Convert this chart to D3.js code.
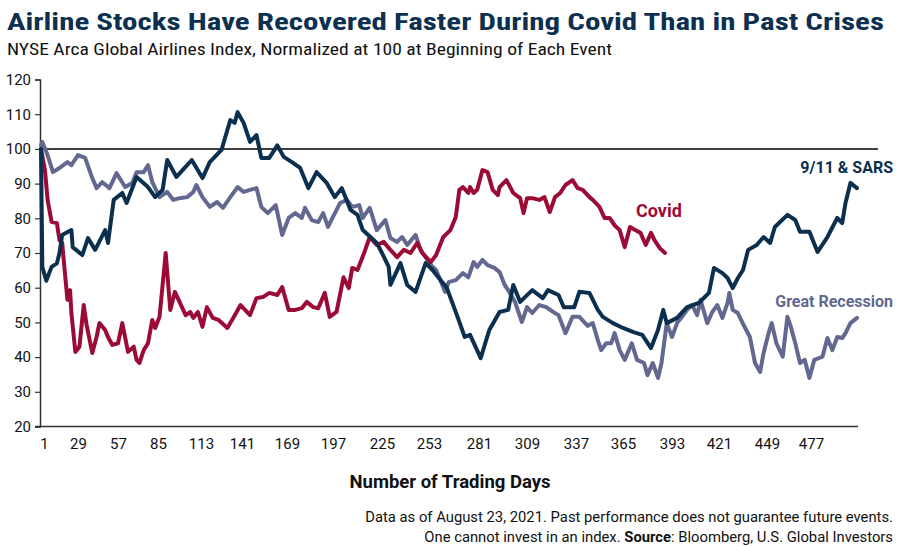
<!DOCTYPE html>
<html>
<head>
<meta charset="utf-8">
<script src="https://cdn.jsdelivr.net/npm/d3@7"></script>
<style>
  body { margin: 0; background: #fff; }
  svg { display: block; }
</style>
</head>
<body>
<svg id="chart" width="900" height="546"></svg>
<script>
// ---- Data ----
const xTickLabels = [1, 29, 57, 85, 113, 141, 169, 197, 225, 253, 281, 309, 337, 365, 393, 421, 449, 477];
const yTickLabels = [20, 30, 40, 50, 60, 70, 80, 90, 100, 110, 120];
const lastDay = 505;

const sarsDays = [1,2,5,9,13,15,17,24,25,32,36,41,48,50,54,60,63,70,78,83,88,91,97,101,107,114,119,127,133,136,138,142,146,150,153,158,163,167,172,177,182,187,193,198,202,207,211,214,219,222,225,229,230,236,240,245,251,255,263,269,273,276,282,287,293,298,301,305,312,318,321,327,330,336,339,345,350,353,359,365,371,376,381,385,388,390,396,402,409,415,418,423,426,429,432,435,438,443,447,451,454,462,467,470,476,481,487,493,496,498,501,505];
const sarsValues = [100,66,62,66,67,70,75.2,76.6,71.7,69.4,74.3,70.9,76.6,72.9,85.3,87.3,84.4,91.9,89,86.1,88.2,96.8,91.9,93.9,96.8,91.6,96.2,99.7,108.3,107.5,110.6,107.5,102,104,97.4,97.4,101,97.7,96.2,94.5,88.7,93.3,90.3,86.1,88.7,82.4,81,76.6,74.3,72.9,70,66,60.8,67.1,60.8,58.8,67.1,65.1,59.9,51.6,45.8,46.4,39.7,47.8,53,53.6,60.8,55.9,59.3,57,59.3,57.9,54.4,54.4,58.8,58.5,53.6,51.6,49.8,48.4,47.2,46.4,42.6,47.8,53.6,49.8,51.3,54.4,55.6,58.5,65.7,64.2,62.8,59.9,62.8,65.1,70.9,72.3,74.6,72.9,77.5,81,79.5,76.1,76.1,70.3,74.6,80.1,78.6,84.4,90.2,88.7];

const covidDays = [1,4,6,9,13,15,17,18,21,23,24,27,30,33,35,39,42,44,48,50,53,57,60,64,68,70,72,75,78,81,83,86,90,93,96,99,103,106,108,111,114,117,121,125,131,135,140,146,150,154,158,163,166,170,174,178,181,185,188,192,195,199,203,206,208,211,215,218,222,226,230,234,238,242,246,249,254,257,261,265,268,270,272,275,276,278,280,283,286,289,292,293,297,301,305,307,309,312,316,319,322,325,328,331,335,338,341,345,347,351,354,357,360,363,366,369,372,375,378,381,383,386,389];
const covidValues = [100,93.9,85.3,79,78.6,73.7,72.9,68.8,56.5,59.3,52.7,41.5,43,55,49.3,41.2,45.8,49.8,47.8,45.8,43.5,44,49.8,41.5,43,39.2,38.3,42,44,50.7,48.4,51.6,70,53.6,58.8,55.9,52.1,53,51.3,53,48.7,54.4,51.3,50.7,48.4,51.3,55,52.1,57,57.3,58.5,57.9,60.2,53.6,53.6,54.1,55.9,54.4,54.1,58.5,51.6,53,63,59.9,65.7,65.1,70.3,74.6,72.3,73.2,70.9,68.8,70.9,70,72.9,70,67.4,69.4,74.6,76.6,80.4,88.2,89,87.3,89,87.3,88.2,93.9,93.3,88.2,86.7,89,91,87.3,85.8,81.5,85.8,85.8,85.3,86.1,81.8,86.1,87.3,89.6,91,88.7,88.2,86.1,85.3,83.3,80.1,80.1,78,76.6,71.7,77.5,76.6,75.8,72.3,75.8,73.7,71.4,70];

const recessionDays = [1,2,6,10,15,21,24,29,34,39,42,46,51,56,62,67,70,75,78,81,86,91,95,99,104,108,110,114,119,124,128,133,138,142,146,150,153,157,162,166,170,174,178,180,184,188,191,194,197,201,205,208,212,214,218,222,227,230,234,237,240,245,248,252,255,257,262,264,268,272,275,278,280,283,286,290,293,296,299,302,306,309,312,316,320,324,327,331,335,339,344,347,350,352,355,358,360,363,366,370,373,377,379,382,385,387,390,393,396,399,402,405,408,410,414,417,420,423,426,427,429,432,435,439,442,445,447,450,452,455,459,462,464,467,470,473,476,479,484,487,490,493,496,498,501,505];
const recessionValues = [101.1,102,98.2,93.3,94.5,96.2,95.3,98.2,97.4,91.6,88.7,90.4,88.7,93,89,90.2,93.3,93.3,95.3,90.4,86.1,87.6,85.3,85.8,86.1,87.6,89.6,86.1,83.3,84.7,83,86.1,89,87.6,88.2,88.7,83.3,81.5,83.8,75.2,80.1,81.5,80.1,83,79.5,78.9,81.5,77.5,80.4,84.4,85.3,83.3,83.8,80.1,83,76.6,79.5,74.3,73.2,74.6,72.3,75.2,70.9,68,66,65.1,58.8,61.6,62.2,64.2,63,67.4,66,68,66.5,65.7,64.5,60.8,58.5,55.9,50.1,54.4,52.7,55,54.4,53,52.1,46.9,51.6,51.6,49,49.8,44.9,42,44,44,46.9,42,39.2,44,39.2,38.3,34.8,38.3,34,38.3,49.8,45.8,49.8,51.6,53.6,55,52.1,56.5,49.8,53,55,51.3,55.6,58.5,53.6,52.7,49.6,45.8,38.3,35.7,41.2,46.9,49.8,44,40.1,51.6,49,44,38.3,39.2,34,39.2,40.1,45.5,42,45.8,45.5,46.9,49.8,51.3];

const seriesNames = ["9/11 & SARS", "Covid", "Great Recession"];
const seriesColors = ["#0b2f4f", "#9b0b35", "#62688f"];

// ---- Layout: pixel positions of the category labels as they sit on the reference axis ----
const xLabelPositions = [41, 78, 118, 158, 201, 242, 287, 333, 382, 429, 479, 527, 576, 623, 672, 719, 767, 811, 857];

// ---- Build ----
const svg = d3.select("#chart");
const x = d3.scaleLinear().domain(xTickLabels.concat([lastDay])).range(xLabelPositions);
const y = d3.scaleLinear().domain([20, 120]).range([426.5, 79.5]);

const condensed = "'Roboto Condensed','Liberation Sans Narrow','DejaVu Sans Condensed',Roboto,sans-serif";

// Title & subtitle
svg.append("text").attr("x", 7).attr("y", 30)
  .attr("font-family", condensed).attr("font-weight", 700).attr("font-size", 23)
  .attr("font-stretch", "condensed")
  .attr("fill", "#0d3050")
  .attr("textLength", 877).attr("lengthAdjust", "spacingAndGlyphs")
  .text("Airline Stocks Have Recovered Faster During Covid Than in Past Crises");
svg.append("text").attr("x", 7).attr("y", 55)
  .attr("font-family", condensed).attr("font-size", 17).attr("font-stretch", "condensed")
  .attr("fill", "#111")
  .attr("textLength", 605).attr("lengthAdjust", "spacingAndGlyphs")
  .text("NYSE Arca Global Airlines Index, Normalized at 100 at Beginning of Each Event");

// Y axis
const yAxis = d3.axisLeft(y).tickValues(yTickLabels).tickSize(5).tickPadding(4).tickFormat(d3.format("d"));
const gy = svg.append("g").attr("transform", "translate(40,0)").call(yAxis);
gy.select(".domain").attr("stroke", "#333").attr("stroke-width", 1.5);
gy.selectAll(".tick line").attr("stroke", "#333").attr("stroke-width", 1.2);
gy.selectAll(".tick text").attr("font-family", "Roboto, sans-serif").attr("font-size", 15).attr("fill", "#111");

// X axis
const xAxis = d3.axisBottom(x).tickValues(xTickLabels).tickSize(0).tickPadding(12).tickFormat(d3.format("d"));
const gx = svg.append("g").attr("transform", "translate(0,426.5)").call(xAxis);
gx.select(".domain").attr("stroke", "#333").attr("stroke-width", 1.5).attr("d", "M35,0H858");
gx.selectAll(".tick text").attr("font-family", "Roboto, sans-serif").attr("font-size", 15).attr("fill", "#111");
gx.selectAll(".tick").filter(d => d === 1).select("text").attr("dx", 3);

// 100 reference line
svg.append("line").attr("x1", 40).attr("x2", 878).attr("y1", y(100)).attr("y2", y(100))
  .attr("stroke", "#000").attr("stroke-width", 1.5);

// Lines
const line = d3.line().x(d => x(d[0])).y(d => y(d[1])).curve(d3.curveLinear);
const sets = [
  d3.zip(sarsDays, sarsValues),
  d3.zip(covidDays, covidValues),
  d3.zip(recessionDays, recessionValues)
];
[2, 1, 0].forEach(i => {
  svg.append("path").datum(sets[i]).attr("d", line)
    .attr("fill", "none").attr("stroke", seriesColors[i]).attr("stroke-width", 4)
    .attr("stroke-linejoin", "round").attr("stroke-linecap", "round");
});

// Series labels
const labelPos = [
  {x: 893, y: 173, anchor: "end", size: 16},
  {x: 636, y: 217, anchor: "start", size: 18},
  {x: 893, y: 307, anchor: "end", size: 16}
];
seriesNames.forEach((n, i) => {
  svg.append("text").attr("x", labelPos[i].x).attr("y", labelPos[i].y)
    .attr("text-anchor", labelPos[i].anchor)
    .attr("font-family", "Roboto, sans-serif").attr("font-weight", 700)
    .attr("font-size", labelPos[i].size).attr("fill", seriesColors[i])
    .text(n);
});

// X axis title
svg.append("text").attr("x", 450).attr("y", 488).attr("text-anchor", "middle")
  .attr("font-family", "Roboto, sans-serif").attr("font-weight", 700).attr("font-size", 18.5)
  .attr("fill", "#111").text("Number of Trading Days");

// Footer
svg.append("text").attr("x", 893).attr("y", 522).attr("text-anchor", "end")
  .attr("font-family", "Roboto, sans-serif").attr("font-size", 14.8).attr("fill", "#111")
  .text("Data as of August 23, 2021. Past performance does not guarantee future events.");
const f2 = svg.append("text").attr("x", 893).attr("y", 542).attr("text-anchor", "end")
  .attr("font-family", "Roboto, sans-serif").attr("font-size", 14.8).attr("fill", "#111");
f2.append("tspan").text("One cannot invest in an index. ");
f2.append("tspan").attr("font-weight", 700).text("Source");
f2.append("tspan").text(": Bloomberg, U.S. Global Investors");
</script>
</body>
</html>
